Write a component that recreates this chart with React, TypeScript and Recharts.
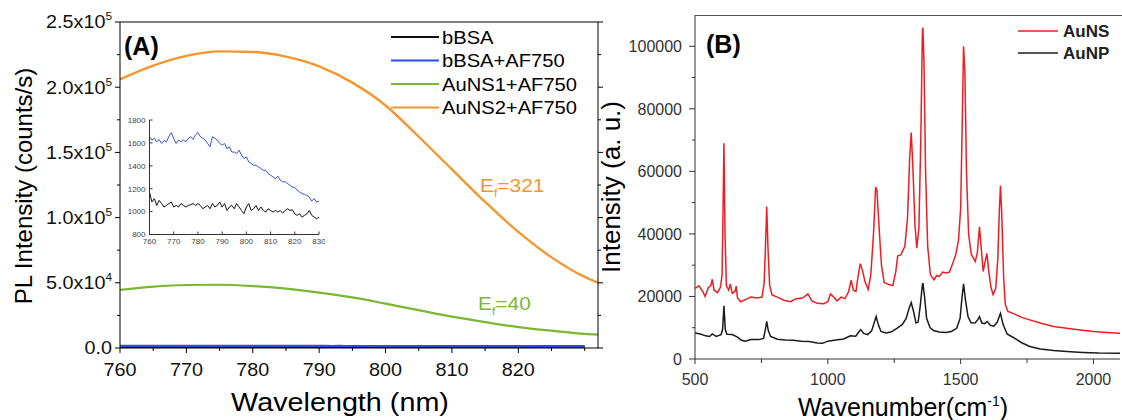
import React from 'react';
import { LineChart, Line, XAxis, YAxis } from 'recharts';

const FONT = "'Liberation Sans', Arial, Helvetica, sans-serif";

// ---------- Panel A: PL spectra ----------
const wlMain = [760, 765, 770, 775, 780, 785, 790, 795, 800, 805, 810, 815, 820, 825, 830, 832];
const plAuNS2 = [206000, 216500, 224000, 227500, 227000, 223500, 216000, 203500, 186000, 162000, 137000, 112000, 89000, 69500, 54500, 50000];
const plAuNS1 = [44500, 47000, 48300, 48500, 47500, 45500, 42500, 38800, 34000, 29000, 24000, 19800, 16000, 13300, 10800, 10200];

// inset (also drawn flat in the main panel)
const wlInset = [
  760, 761, 762, 763, 764, 765, 766, 767, 768, 769,
  770, 771, 772, 773, 774, 775, 776, 777, 778, 779,
  780, 781, 782, 783, 784, 785, 786, 787, 788, 789,
  790, 791, 792, 793, 794, 795, 796, 797, 798, 799,
  800, 801, 802, 803, 804, 805, 806, 807, 808, 809,
  810, 811, 812, 813, 814, 815, 816, 817, 818, 819,
  820, 821, 822, 823, 824, 825, 826, 827, 828, 829, 830,
];
const plBsaAf = [
  1654, 1625, 1640, 1610, 1630, 1595, 1620, 1610, 1654, 1690,
  1640, 1595, 1625, 1610, 1625, 1610, 1640, 1654, 1630, 1670,
  1690, 1654, 1640, 1625, 1595, 1566, 1654, 1640, 1625, 1595,
  1580, 1595, 1550, 1566, 1520, 1520, 1508, 1537, 1493, 1464,
  1478, 1434, 1420, 1405, 1405, 1390, 1376, 1361, 1361, 1332,
  1318, 1303, 1288, 1310, 1275, 1260, 1260, 1245, 1230, 1215,
  1210, 1186, 1171, 1157, 1150, 1142, 1127, 1092, 1113, 1084, 1092,
];
const plBsa = [
  1171, 1084, 1113, 1054, 1098, 1070, 1040, 1054, 1070, 1084,
  1040, 1054, 1040, 1070, 1054, 1040, 1054, 1060, 1070, 1054,
  1070, 1054, 1025, 1040, 1054, 1025, 1070, 1040, 1054, 1084,
  1040, 1070, 1010, 1040, 1054, 1025, 1070, 1040, 1010, 981,
  1040, 1070, 1010, 1025, 1054, 1010, 1040, 1010, 996, 1025,
  1010, 996, 1010, 996, 1010, 987, 1010, 1025, 1010, 1016,
  981, 967, 981, 952, 967, 981, 1010, 967, 952, 937, 952,
];

const aXTicks = [760, 765, 770, 775, 780, 785, 790, 795, 800, 805, 810, 815, 820, 825, 830];
const aXMajor = [760, 770, 780, 790, 800, 810, 820];
const aXLabels = ['760', '770', '780', '790', '800', '810', '820'];
const aYTicks = [0, 25000, 50000, 75000, 100000, 125000, 150000, 175000, 200000, 225000, 250000];
const aYMajor = [0, 50000, 100000, 150000, 200000, 250000];
const aYLabels = ['0.0', '5.0x10|4', '1.0x10|5', '1.5x10|5', '2.0x10|5', '2.5x10|5'];

const inXTicks = [760, 770, 780, 790, 800, 810, 820, 830];
const inXLabels = ['760', '770', '780', '790', '800', '810', '820', '830'];
const inYTicks = [800, 1000, 1200, 1400, 1600, 1800];
const inYLabels = ['800', '1000', '1200', '1400', '1600', '1800'];

const legendA = [
  { name: 'bBSA', color: '#111111' },
  { name: 'bBSA+AF750', color: '#2a4fe0' },
  { name: 'AuNS1+AF750', color: '#7cb733' },
  { name: 'AuNS2+AF750', color: '#f5962d' },
];

// ---------- Panel B: SERS spectra ----------
const wnAuNS = [
  500, 515, 530, 538, 550, 560, 565, 572, 585, 596, 602, 606, 609, 613, 618, 627, 633, 640, 650, 655,
  660, 672, 690, 710, 735, 752, 760, 765, 770, 775, 781, 790, 810, 835, 860, 880, 905, 925, 940, 960,
  985, 1000, 1010, 1022, 1035, 1050, 1065, 1078, 1088, 1096, 1106, 1114, 1122, 1130, 1140, 1152, 1162, 1172, 1180, 1185,
  1193, 1202, 1212, 1230, 1245, 1256, 1263, 1275, 1290, 1300, 1308, 1314, 1320, 1328, 1335, 1343, 1350, 1356, 1358, 1362,
  1368, 1376, 1386, 1400, 1410, 1420, 1432, 1445, 1458, 1470, 1482, 1492, 1500, 1506, 1511, 1516, 1522, 1530, 1540, 1555,
  1563, 1571, 1578, 1585, 1592, 1599, 1606, 1614, 1622, 1632, 1640, 1646, 1650, 1655, 1662, 1668, 1678, 1700, 1730, 1760,
  1800, 1850, 1900, 1950, 2000, 2050, 2100,
];
const intAuNS = [
  22600, 23400, 21500, 20000, 22800, 23500, 25500, 22000, 21200, 23000, 27000, 50000, 69000, 40000, 23500, 22000, 24000, 21000, 21500, 23300,
  19500, 18300, 19000, 19800, 19500, 19800, 24000, 35000, 48700, 35000, 23500, 20500, 19800, 18800, 18300, 19300, 19500, 20800, 18600, 17800,
  17700, 18300, 20800, 19800, 18600, 19800, 19300, 21500, 25200, 22000, 21600, 26500, 30500, 28500, 24800, 22300, 27000, 40000, 55000, 54000,
  42000, 30000, 24500, 23800, 23500, 28000, 33000, 33300, 36000, 45000, 64000, 72400, 62000, 43000, 35400, 42000, 70000, 104000, 106000, 95000,
  60000, 36000, 27000, 25300, 26700, 26400, 27800, 27500, 27800, 30500, 33500, 38000, 48000, 75000, 100000, 92000, 60000, 40000, 33500, 31200,
  34000, 42300, 35000, 28000, 31000, 33800, 28000, 23000, 20600, 22500, 32000, 48000, 55400, 46000, 26000, 17500, 15200, 14500, 13300, 12500,
  11500, 10400, 9800, 9300, 8800, 8500, 8200,
];
const wnAuNP = [
  500, 520, 540, 555, 565, 580, 598, 604, 609, 614, 620, 640, 660, 675, 690, 710, 740, 758, 765, 770,
  776, 785, 810, 840, 870, 900, 930, 960, 980, 1000, 1030, 1060, 1085, 1105, 1118, 1124, 1135, 1150, 1165, 1176,
  1182, 1190, 1200, 1220, 1240, 1260, 1280, 1295, 1307, 1314, 1322, 1332, 1340, 1348, 1355, 1358, 1364, 1372, 1385, 1400,
  1420, 1445, 1465, 1485, 1498, 1505, 1511, 1518, 1528, 1540, 1555, 1564, 1571, 1580, 1590, 1600, 1612, 1625, 1638, 1650,
  1660, 1675, 1700, 1730, 1760, 1800, 1850, 1900, 1960, 2020, 2100,
];
const intAuNP = [
  8300, 8000, 7400, 7200, 8000, 7200, 7800, 9500, 17000, 9500, 7900, 7800, 7000, 6000, 5700, 6200, 6200, 6600, 9500, 12000,
  9000, 7200, 6300, 6100, 6000, 5700, 5600, 5100, 5000, 5700, 6100, 6400, 7400, 7300, 8800, 9400, 8200, 7800, 9000, 12000,
  13600, 11000, 8800, 8300, 8700, 9800, 11000, 13000, 16500, 18000, 15500, 11500, 11800, 17000, 23000, 24300, 20000, 13000, 10000, 9000,
  8600, 8500, 8800, 9800, 13000, 19500, 24000, 19000, 13500, 11500, 11600, 12500, 13500, 11500, 11300, 12000, 10800, 10500, 11800, 14600,
  11000, 8000, 6800, 5200, 4000, 3200, 2700, 2400, 2100, 1900, 1800,
];

const bXTicks = [500, 750, 1000, 1250, 1500, 1750, 2000];
const bXMajor = [500, 1000, 1500, 2000];
const bXLabels = ['500', '1000', '1500', '2000'];
const bYTicks = [0, 10000, 20000, 30000, 40000, 50000, 60000, 70000, 80000, 90000, 100000];
const bYMajor = [0, 20000, 40000, 60000, 80000, 100000];
const bYLabels = ['0', '20000', '40000', '60000', '80000', '100000'];

const legendB = [
  { name: 'AuNS', color: '#ee1d23' },
  { name: 'AuNP', color: '#1a1a1a' },
];

const toXY = (xs: number[], ys: number[]) => xs.map((x, i) => ({ x, y: ys[i] }));

type TickCfg = {
  side: 'left' | 'right' | 'top' | 'bottom';
  majors: number[];
  labels?: string[];
  major: number;
  minor: number;
  stroke: string;
  size?: number;
  fill?: string;
  gap?: number;
  sx?: number;
};

// draws its own tick line (negative length = inward) and an optional label
const makeTick = (c: TickCfg) => (p: any) => {
  const x = Number(p.x);
  const y = Number(p.y);
  const idx = c.majors.indexOf(p.payload?.value);
  const len = idx >= 0 ? c.major : c.minor;
  const x2 = c.side === 'left' ? x - len : c.side === 'right' ? x + len : x;
  const y2 = c.side === 'top' ? y - len : c.side === 'bottom' ? y + len : y;
  let label = null;
  if (idx >= 0 && c.labels && c.labels[idx] !== undefined) {
    const [base, sup] = c.labels[idx].split('|');
    const size = c.size ?? 14;
    const left = c.side === 'left';
    const tx = left ? x - (c.gap ?? 8) : x;
    const ty = left ? y + size * 0.36 : y + (c.gap ?? 20);
    label = (
      <text
        transform={`translate(${tx},${ty}) scale(${c.sx ?? 1},1)`}
        textAnchor={left ? 'end' : 'middle'}
        fontSize={size}
        fill={c.fill ?? '#000'}
        fontFamily={FONT}
      >
        {base}
        {sup && <tspan dy={-8} fontSize={size * 0.6}>{sup}</tspan>}
      </text>
    );
  }
  return (
    <g>
      <line x1={x} y1={y} x2={x2} y2={y2} stroke={c.stroke} strokeWidth={1} />
      {label}
    </g>
  );
};

const SText = ({ x, y, size, sx = 1, anchor = 'start', weight = 'normal', fill = '#000', rotate = 0, children }: any) => (
  <text
    transform={`translate(${x},${y})${rotate ? ` rotate(${rotate})` : ''} scale(${sx},1)`}
    fontSize={size}
    textAnchor={anchor}
    fontWeight={weight}
    fill={fill}
    fontFamily={FONT}
  >
    {children}
  </text>
);

const PanelA = () => (
  <LineChart width={610} height={420} margin={{ top: 12, right: 4, bottom: 32, left: 30 }}>
    <XAxis
      type="number" dataKey="x" domain={[760, 832]} allowDataOverflow ticks={aXTicks} interval={0}
      height={40} tickSize={0} tickMargin={0} tickLine={false} stroke="#000"
      tick={makeTick({ side: 'bottom', majors: aXMajor, labels: aXLabels, major: 5, minor: 3, stroke: '#000', size: 18, sx: 1.1, gap: 28, fill: '#111' })}
    />
    <XAxis
      xAxisId="top" orientation="top" type="number" domain={[760, 832]} allowDataOverflow ticks={aXTicks} interval={0}
      height={10} tickSize={0} tickMargin={0} tickLine={false} stroke="#000"
      tick={makeTick({ side: 'top', majors: aXMajor, major: 4, minor: 3, stroke: '#000' })}
    />
    <YAxis
      type="number" domain={[0, 250000]} allowDataOverflow ticks={aYTicks} interval={0}
      width={90} tickSize={0} tickMargin={0} tickLine={false} stroke="#000"
      tick={makeTick({ side: 'left', majors: aYMajor, labels: aYLabels, major: 5, minor: 3, stroke: '#000', size: 18, sx: 1.1, gap: 8, fill: '#111' })}
    />
    <YAxis
      yAxisId="right" orientation="right" type="number" domain={[0, 250000]} allowDataOverflow ticks={aYTicks} interval={0}
      width={8} tickSize={0} tickMargin={0} tickLine={false} stroke="#000"
      tick={makeTick({ side: 'right', majors: aYMajor, major: 5, minor: 3, stroke: '#000' })}
    />
    <Line data={toXY(wlInset, plBsa)} dataKey="y" type="linear" stroke={legendA[0].color} strokeWidth={3} dot={false} isAnimationActive={false} />
    <Line data={toXY(wlInset, plBsaAf)} dataKey="y" type="linear" stroke={legendA[1].color} strokeWidth={2.2} dot={false} isAnimationActive={false} />
    <Line data={toXY(wlMain, plAuNS1)} dataKey="y" type="monotone" stroke={legendA[2].color} strokeWidth={2.2} dot={false} isAnimationActive={false} />
    <Line data={toXY(wlMain, plAuNS2)} dataKey="y" type="monotone" stroke={legendA[3].color} strokeWidth={2.4} dot={false} isAnimationActive={false} />
  </LineChart>
);

const Inset = () => (
  <LineChart width={215} height={140} margin={{ top: 10, right: 6, bottom: 3.5, left: 9.5 }}>
    <XAxis
      type="number" dataKey="x" domain={[760, 830]} allowDataOverflow ticks={inXTicks} interval={0}
      height={12} tickSize={0} tickMargin={0} tickLine={false} stroke="#333"
      tick={makeTick({ side: 'bottom', majors: inXTicks, labels: inXLabels, major: -3, minor: -2, stroke: '#333', size: 8, gap: 9, fill: '#444' })}
    />
    <XAxis
      xAxisId="top" orientation="top" type="number" domain={[760, 830]} allowDataOverflow ticks={inXTicks} interval={0}
      height={0} tickSize={0} tickMargin={0} tickLine={false} stroke="#333"
      tick={makeTick({ side: 'top', majors: inXTicks, major: -3, minor: -2, stroke: '#333' })}
    />
    <YAxis
      type="number" domain={[800, 1800]} allowDataOverflow ticks={inYTicks} interval={0}
      width={30} tickSize={0} tickMargin={0} tickLine={false} stroke="#333"
      tick={makeTick({ side: 'left', majors: inYTicks, labels: inYLabels, major: -3, minor: -2, stroke: '#333', size: 8, gap: 4, fill: '#444' })}
    />
    <YAxis
      yAxisId="right" orientation="right" type="number" domain={[800, 1800]} allowDataOverflow ticks={inYTicks} interval={0}
      width={0} tickSize={0} tickMargin={0} tickLine={false} stroke="#333"
      tick={makeTick({ side: 'right', majors: inYTicks, major: -3, minor: -2, stroke: '#333' })}
    />
    <Line data={toXY(wlInset, plBsaAf)} dataKey="y" type="linear" stroke="#3552d8" strokeWidth={1} dot={false} isAnimationActive={false} />
    <Line data={toXY(wlInset, plBsa)} dataKey="y" type="linear" stroke="#111" strokeWidth={1} dot={false} isAnimationActive={false} />
  </LineChart>
);

const PanelB = () => (
  <LineChart width={562} height={420} margin={{ top: 15, right: 2, bottom: 21, left: 65 }}>
    <XAxis
      type="number" dataKey="x" domain={[500, 2100]} allowDataOverflow ticks={bXTicks} interval={0}
      height={40} tickSize={0} tickMargin={0} tickLine={false} stroke="#333"
      tick={makeTick({ side: 'bottom', majors: bXMajor, labels: bXLabels, major: 5, minor: 4, stroke: '#333', size: 16, gap: 26, fill: '#333' })}
    />
    <YAxis
      type="number" domain={[0, 110000]} allowDataOverflow ticks={bYTicks} interval={0}
      width={70} tickSize={0} tickMargin={0} tickLine={false} stroke="#333"
      tick={makeTick({ side: 'left', majors: bYMajor, labels: bYLabels, major: 6, minor: 3, stroke: '#333', size: 16, gap: 13, fill: '#333' })}
    />
    <Line data={toXY(wnAuNP, intAuNP)} dataKey="y" type="linear" stroke={legendB[1].color} strokeWidth={1.5} dot={false} isAnimationActive={false} />
    <Line data={toXY(wnAuNS, intAuNS)} dataKey="y" type="linear" stroke={legendB[0].color} strokeWidth={1.5} dot={false} isAnimationActive={false} />
  </LineChart>
);

const Annotations = () => (
  <svg width={1122} height={420} style={{ position: 'absolute', left: 0, top: 0, pointerEvents: 'none' }}>
    {/* panel A */}
    <SText x={124} y={55} size={25} weight="bold">(A)</SText>
    <SText x={32} y={186} size={24} rotate={-90} anchor="middle">PL Intensity (counts/s)</SText>
    <SText x={340} y={411} size={25} sx={1.15} anchor="middle">Wavelength (nm)</SText>
    {legendA.map((d, i) => {
      const y = [37, 60.5, 84, 107.5][i];
      return (
        <g key={d.name}>
          <line x1={391} x2={439} y1={y} y2={y} stroke={d.color} strokeWidth={2} />
          <SText x={442} y={y + 6.5} size={18} sx={1.12}>{d.name}</SText>
        </g>
      );
    })}
    <SText x={480} y={192} size={19} sx={1.1} fill="#f5962d">
      E<tspan dy={5} fontSize={11}>f</tspan><tspan dy={-5}>=321</tspan>
    </SText>
    <SText x={478} y={310} size={19} sx={1.1} fill="#7cb733">
      E<tspan dy={5} fontSize={11}>f</tspan><tspan dy={-5}>=40</tspan>
    </SText>

    {/* panel B */}
    <line x1={695} x2={1122} y1={15.5} y2={15.5} stroke="#555" strokeWidth={1} />
    <SText x={706} y={53} size={25} weight="bold">(B)</SText>
    <SText x={620} y={187} size={26} rotate={-90} anchor="middle">Intensity (a. u.)</SText>
    <SText x={903} y={416} size={25} anchor="middle">
      Wavenumber(cm<tspan dy={-10} fontSize={14}>-1</tspan><tspan dy={10}>)</tspan>
    </SText>
    {legendB.map((d, i) => {
      const y = [31, 53][i];
      return (
        <g key={d.name}>
          <line x1={1018} x2={1058} y1={y} y2={y} stroke={d.color} strokeWidth={1.5} />
          <SText x={1063} y={y + 6} size={17} weight="bold" fill="#222">{d.name}</SText>
        </g>
      );
    })}
  </svg>
);

export default function App() {
  return (
    <div style={{ position: 'absolute', left: 0, top: 0, width: 1122, height: 420, background: '#fff', overflow: 'hidden' }}>
      <div style={{ position: 'absolute', left: 0, top: 0 }}>
        <PanelA />
      </div>
      <div style={{ position: 'absolute', left: 110, top: 110 }}>
        <Inset />
      </div>
      <div style={{ position: 'absolute', left: 560, top: 0 }}>
        <PanelB />
      </div>
      <Annotations />
    </div>
  );
}
